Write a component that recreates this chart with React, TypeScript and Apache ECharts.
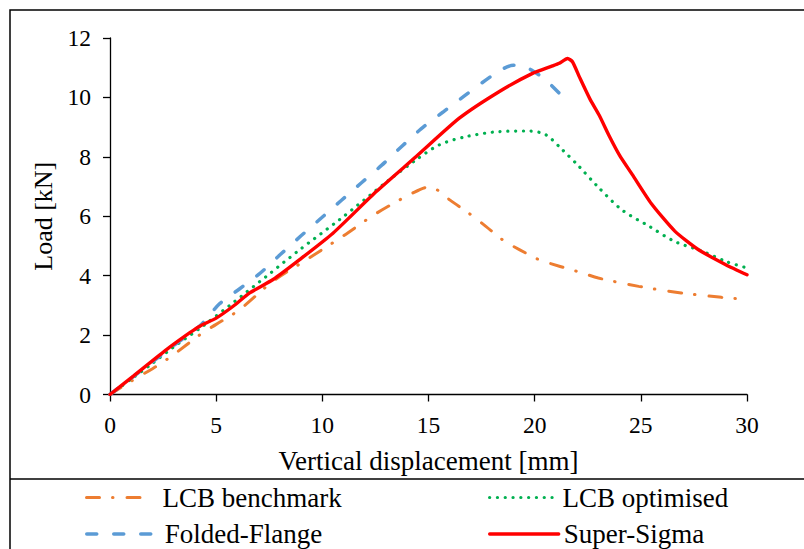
import React, { useEffect, useRef } from "react";
import * as echarts from "echarts";

const SERIES_NAMES = ["LCB benchmark", "LCB optimised", "Folded-Flange", "Super-Sigma"];
const SERIES_COLORS = ["#ED7D31", "#00B050", "#5B9BD5", "#FF0000"];

const X_RANGE = [0, 30, 5];
const Y_RANGE = [0, 12, 2];

const lcbBenchmark: [number, number][] = [
  [0, 0], [1, 0.45], [2, 0.87], [2.82, 1.25], [4.37, 2.08], [5, 2.36], [6.11, 2.86], [7.67, 3.81],
  [9.26, 4.54], [10.95, 5.32], [12.55, 6.1], [14.25, 6.78], [15, 6.98], [15.5, 6.85], [16, 6.55],
  [16.9, 6.1], [17.7, 5.66], [18.5, 5.2], [19.3, 4.87], [20.2, 4.54], [21.2, 4.31], [22.25, 4.09],
  [23, 3.92], [24.9, 3.64], [26.9, 3.42], [28.8, 3.27], [30, 3.2],
];

const lcbOptimised: [number, number][] = [
  [0, 0], [1, 0.52], [2, 1.05], [3, 1.6], [4.37, 2.3], [5.8, 3.09], [7.37, 3.98], [8.93, 4.87],
  [10.8, 5.88], [13.16, 7.23], [14.42, 7.9], [15.5, 8.4], [16.77, 8.68], [18.34, 8.85], [19.75, 8.87],
  [20.53, 8.74], [21.3, 8.24], [22.1, 7.67], [22.9, 7.05], [24.1, 6.22], [25.4, 5.66], [26.6, 5.15],
  [27.9, 4.82], [29, 4.48], [30, 4.26],
];

const foldedFlange: [number, number][] = [
  [0, 0], [1, 0.55], [2, 1.1], [3, 1.65], [4.26, 2.33], [5.17, 3.06], [6.11, 3.56], [7.08, 4.09],
  [8.02, 4.71], [9.01, 5.35], [9.95, 5.94], [10.89, 6.53], [11.83, 7.12], [12.8, 7.72], [13.71, 8.33],
  [14.65, 8.94], [15.67, 9.5], [16.69, 10.05], [17.71, 10.59], [18.4, 10.92], [19, 11.08],
  [19.5, 11.04], [19.9, 10.9], [20.5, 10.6], [21.16, 10.14],
];

const superSigma: [number, number][] = [
  [0, 0], [1.1, 0.62], [2.66, 1.51], [3.76, 2.08], [4.23, 2.3], [5.02, 2.58], [5.8, 2.97],
  [6.58, 3.42], [7.68, 3.87], [8.93, 4.54], [10.5, 5.43], [12.54, 6.83], [14.42, 8.01], [16.45, 9.3],
  [18.34, 10.2], [19.9, 10.81], [20.84, 11.06], [21.16, 11.15], [21.55, 11.31], [21.78, 11.2],
  [22.1, 10.7], [22.6, 9.95], [23.04, 9.4], [23.5, 8.72], [24, 8.05], [24.6, 7.4], [25.5, 6.42],
  [26.6, 5.5], [27.7, 4.88], [29, 4.37], [30, 4.03],
];

const SERIES_DATA = [lcbBenchmark, lcbOptimised, foldedFlange, superSigma];

const FONT = "'Liberation Serif', 'Times New Roman', Times, serif";

export default function App() {
  const ref = useRef<HTMLDivElement>(null);

  useEffect(() => {
    if (!ref.current) return;
    const chart = echarts.init(ref.current, null, { renderer: "svg" });

    const lineStyles: any[] = [
      { width: 3, type: [13, 13, 0.5, 14], cap: "round" },
      { width: 3.2, type: [0.1, 7.7], cap: "round" },
      { width: 3.5, type: [10, 17], cap: "round" },
      { width: 3.4, type: "solid", cap: "round" },
    ];

    const legendPos = [
      { left: 85, top: 484, itemWidth: 58, pad: 13 },
      { left: 488, top: 484, itemWidth: 64, pad: 4 },
      { left: 85, top: 520.5, itemWidth: 68, pad: 5 },
      { left: 488, top: 520.5, itemWidth: 69, pad: 0 },
    ];

    const legends = SERIES_NAMES.map((name, i) => ({
      show: true,
      data: [name],
      left: legendPos[i].left,
      top: legendPos[i].top,
      padding: 0,
      itemWidth: legendPos[i].itemWidth,
      itemHeight: 26,
      selectedMode: false,
      itemStyle: { opacity: 0, borderWidth: 0 },
      lineStyle: { width: lineStyles[i].width },
      textStyle: {
        fontFamily: FONT,
        fontSize: 27,
        color: "#000",
        padding: [4, 0, 0, legendPos[i].pad],
      },
    }));

    chart.setOption({
      animation: false,
      backgroundColor: "#fff",
      textStyle: { fontFamily: FONT },
      grid: { left: 110, right: 57, top: 38, bottom: 154.5, containLabel: false },
      legend: legends,
      xAxis: {
        type: "value",
        min: X_RANGE[0],
        max: X_RANGE[1],
        interval: X_RANGE[2],
        name: "Vertical displacement [mm]",
        nameLocation: "middle",
        nameGap: 53,
        nameTextStyle: { fontFamily: FONT, fontSize: 27, color: "#000" },
        axisLine: { show: true, lineStyle: { color: "#000", width: 1.3 } },
        axisTick: { show: true, length: 7, lineStyle: { color: "#000", width: 1.3 } },
        axisLabel: { fontFamily: FONT, fontSize: 23.5, color: "#000", margin: 18 },
        splitLine: { show: false },
      },
      yAxis: {
        type: "value",
        min: Y_RANGE[0],
        max: Y_RANGE[1],
        interval: Y_RANGE[2],
        name: "Load [kN]",
        nameLocation: "middle",
        nameGap: 52,
        nameTextStyle: { fontFamily: FONT, fontSize: 26, color: "#000" },
        axisLine: { show: true, lineStyle: { color: "#000", width: 1.3 } },
        axisTick: { show: true, length: 7, lineStyle: { color: "#000", width: 1.3 } },
        axisLabel: { fontFamily: FONT, fontSize: 23.5, color: "#000", margin: 19 },
        splitLine: { show: false },
      },
      graphic: [
        {
          type: "rect",
          shape: { x: 10, y: 10, width: 1000, height: 1000 },
          style: { fill: "none", stroke: "#000", lineWidth: 1.5 },
          silent: true,
          z: 10,
        },
        {
          type: "line",
          shape: { x1: 10, y1: 479, x2: 804, y2: 479 },
          style: { stroke: "#000", lineWidth: 1.5 },
          silent: true,
          z: 10,
        },
      ],
      series: SERIES_NAMES.map((name, i) => ({
        name,
        type: "line",
        data: SERIES_DATA[i],
        symbol: "none",
        showSymbol: false,
        smooth: i === 3 ? 0.2 : 0.3,
        color: SERIES_COLORS[i],
        lineStyle: { color: SERIES_COLORS[i], ...lineStyles[i] },
        z: 2 + (i === 3 ? 2 : i === 2 ? 1 : 0),
      })),
    });

    return () => chart.dispose();
  }, []);

  return (
    <div
      ref={ref}
      style={{ position: "fixed", left: 0, top: 0, width: 804, height: 549 }}
    />
  );
}
